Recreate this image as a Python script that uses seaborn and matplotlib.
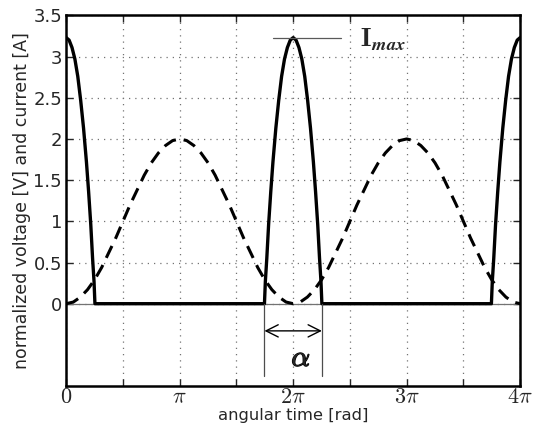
import numpy as np
import pandas as pd
import matplotlib
matplotlib.use("Agg")
import matplotlib.pyplot as plt
import matplotlib.patheffects as pe
import seaborn as sns

# ---------------- data ----------------
PI = np.pi
# normalized voltage over one period, sampled every pi/16 (0 .. 2pi)
volt_step = PI / 16
volt_period = [0.00, 0.02, 0.08, 0.17, 0.29, 0.44, 0.62, 0.80, 1.00,
               1.20, 1.38, 1.56, 1.71, 1.83, 1.92, 1.98, 2.00,
               1.98, 1.92, 1.83, 1.71, 1.56, 1.38, 1.20, 1.00,
               0.80, 0.62, 0.44, 0.29, 0.17, 0.08, 0.02, 0.00]
n_periods = 2

# current pulse half-shape: offset from pulse centre [rad] and current [A]
pulse_offset = [0.00, 0.08, 0.16, 0.24, 0.32, 0.40, 0.48, 0.56, 0.62, 0.68, 0.73, 0.77, 0.795]
pulse_value = [3.23, 3.20, 3.11, 2.97, 2.76, 2.47, 2.13, 1.72, 1.36, 0.96, 0.55, 0.27, 0.00]
pulse_centres = [0.0, 2 * PI, 4 * PI]

i_max = 3.23
alpha_half = 0.795

xtick_vals = [k * PI / 2 for k in range(9)]
xtick_labels = [r"$0$", "", r"$\pi$", "", r"$2\pi$", "", r"$3\pi$", "", r"$4\pi$"]
ytick_vals = [0, 0.5, 1, 1.5, 2, 2.5, 3, 3.5]
ytick_labels = ["0", "0.5", "1", "1.5", "2", "2.5", "3", "3.5"]

# ---------------- build series ----------------
v_single = np.array(volt_period)
v_y = np.concatenate([v_single] + [v_single[1:]] * (n_periods - 1))
v_x = np.arange(len(v_y)) * volt_step
volt_df = pd.DataFrame({"t": v_x, "v": v_y})

off = np.array(pulse_offset)
val = np.array(pulse_value)
cx, cy = [], []
x_lo, x_hi = 0.0, 4 * PI
for c in pulse_centres:
    lx = c - off[::-1]
    ly = val[::-1]
    m = lx >= x_lo - 1e-9
    cx.extend(lx[m]); cy.extend(ly[m])
    rx = c + off[1:]
    ry = val[1:]
    m = rx <= x_hi + 1e-9
    cx.extend(rx[m]); cy.extend(ry[m])
cur_df = pd.DataFrame({"t": cx, "i": cy})

# ---------------- plot ----------------
sns.set_style("ticks")
plt.rcParams["font.family"] = ["DejaVu Sans"]
plt.rcParams["mathtext.fontset"] = "cm"

fig = plt.figure(figsize=(5.34, 4.28), dpi=100)
ax = fig.add_axes([0.124, 0.098, 0.850, 0.866])

sns.lineplot(data=volt_df, x="t", y="v", ax=ax, color="black", lw=2.2,
             linestyle=(0, (4.3, 2.6)), sort=False, estimator=None)
sns.lineplot(data=cur_df, x="t", y="i", ax=ax, color="black", lw=2.4,
             sort=False, estimator=None)

ax.axhline(0, color="0.45", lw=0.9, zorder=1)

ax.set_xlim(0, 4 * PI)
ax.set_ylim(-1, 3.5)
ax.set_xticks(xtick_vals)
ax.set_xticklabels(xtick_labels, fontsize=16)
ax.set_yticks(ytick_vals)
ax.set_yticklabels(ytick_labels, fontsize=13)
ax.tick_params(direction="in", top=True, right=True, length=5, width=1)
ax.tick_params(axis="x", pad=1)
ax.tick_params(axis="y", pad=3)
ax.grid(True, linestyle=(0, (1, 4)), color="0.45", lw=0.9)
for s in ax.spines.values():
    s.set_linewidth(1.8)
    s.set_color("black")

ax.set_xlabel("angular time [rad]", fontsize=11.8)
ax.xaxis.set_label_coords(0.5, -0.058)
ax.set_ylabel("normalized voltage [V] and current [A]", fontsize=12.5, labelpad=2)

# annotations
c2 = 2 * PI
ax.plot([c2 - 0.57, c2 + 1.32], [i_max, i_max], color="0.35", lw=0.9)
ax.text(c2 + 1.85, i_max - 0.02, r"$\mathbf{I}_{\mathbfit{max}}$", fontsize=19,
        va="center", ha="left")
for xv in (c2 - alpha_half, c2 + alpha_half):
    ax.plot([xv, xv], [0, -0.88], color="0.3", lw=0.9)
ax.annotate("", xy=(c2 + alpha_half, -0.33), xytext=(c2 - alpha_half, -0.33),
            arrowprops=dict(arrowstyle="<->", lw=1.0, color="black",
                            mutation_scale=22, shrinkA=0, shrinkB=0))
t_alpha = ax.text(c2 + 0.22, -0.66, r"$\alpha$", fontsize=21, ha="center", va="center")
t_alpha.set_path_effects([pe.withStroke(linewidth=0.9, foreground="black")])

fig.savefig("out.png", dpi=100)
